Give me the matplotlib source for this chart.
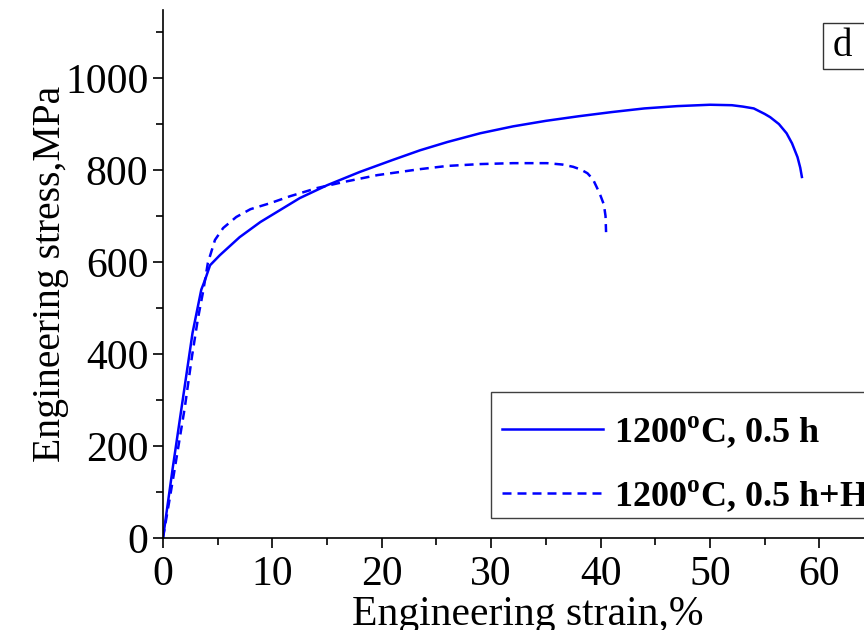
import matplotlib
matplotlib.use("Agg")
import matplotlib.pyplot as plt
from matplotlib.patches import Rectangle

plt.rcParams["font.family"] = ["Liberation Serif", "DejaVu Serif"]
plt.rcParams["mathtext.fontset"] = "custom"
plt.rcParams["mathtext.rm"] = "Liberation Serif"
plt.rcParams["mathtext.bf"] = "Liberation Serif:bold"

# Tensile curves: engineering strain (%) vs engineering stress (MPa)
strain_a = [0, 0.9, 1.8, 2.7, 3.5, 3.84, 4.3, 5.2, 7.0, 8.9, 10.7, 12.5, 15.0, 18.0,
            21.0, 23.5, 26.0, 29.0, 32.0, 35.0, 38.0, 41.0, 44.0, 47.0, 50.0,
            52.0, 53.0, 54.0, 55.0, 55.5, 56.3, 57.0, 57.5, 58.0, 58.25, 58.4]
stress_a = [0, 154, 300, 446, 540, 561, 593, 615, 654, 687, 713, 739, 767, 796,
            822, 843, 861, 880, 895, 907, 917, 926, 934, 939, 942,
            941, 938, 934, 922, 915, 900, 880, 858, 828, 805, 785]

strain_b = [0, 1.0, 2.0, 2.65, 3.2, 3.66, 4.1, 4.75, 5.5, 6.7, 8.0, 9.8, 11.6, 14.1,
            16.5, 19.6, 23.5, 26.0, 29.0, 32.0, 35.1, 36.5, 37.5, 38.2, 38.8,
            39.3, 39.9, 40.3, 40.45, 40.5]
stress_b = [0, 140, 285, 395, 478, 535, 598, 648, 674, 698, 715, 728, 743, 761,
            774, 789, 802, 809, 813, 815, 815, 812, 807, 801, 793,
            780, 750, 725, 700, 665]

labels = [r"1200$^{\mathbf{o}}$C, 0.5 h", r"1200$^{\mathbf{o}}$C, 0.5 h+HIP"]
x_ticks = [0, 10, 20, 30, 40, 50, 60]
y_ticks = [0, 200, 400, 600, 800, 1000]

W, H = 864, 630
fig = plt.figure(figsize=(W / 100, H / 100), dpi=100)
x0, y_bot, y_top = 163, 538, 10
xmax = 66.7
px_per_x = 10.94
ax = fig.add_axes([x0 / W, 1 - y_bot / H, xmax * px_per_x / W, (y_bot - y_top) / H])

blue = "#0000ff"
ax.plot(strain_a, stress_a, color=blue, lw=1.8, label=labels[0])
ax.plot(strain_b, stress_b, color=blue, lw=1.8, dashes=(3.6, 2.4), label=labels[1])

ax.set_xlim(0, xmax)
ax.set_ylim(0, 1148)
ax.set_xticks(x_ticks)
ax.set_yticks(y_ticks)
ax.set_xticks([5, 15, 25, 35, 45, 55, 65], minor=True)
ax.set_yticks([100, 300, 500, 700, 900, 1100], minor=True)

for s in ["top", "right"]:
    ax.spines[s].set_visible(False)
for s in ["left", "bottom"]:
    ax.spines[s].set_linewidth(1.2)

ax.tick_params(which="major", direction="out", length=7.5, width=1.2, labelsize=30)
ax.tick_params(which="minor", direction="out", length=5, width=1.2)
ax.tick_params(axis="y", which="major", pad=3)
ax.tick_params(axis="x", which="major", pad=5)

ax.set_xlabel("Engineering strain,%", fontsize=30, labelpad=1)
ax.set_ylabel("Engineering stress,MPa", fontsize=28.5, labelpad=-3)

# legend frame drawn separately, entries placed inside it
ax.add_patch(Rectangle((491 / W, 1 - 518 / H), 400 / W, 126 / H,
                       transform=fig.transFigure, fc="white", ec="#404040",
                       lw=1.0, zorder=4, clip_on=False))
leg = ax.legend(loc="upper left", bbox_to_anchor=(480 / W, 1 - 392 / H),
                bbox_transform=fig.transFigure, borderaxespad=0,
                prop={"weight": "bold", "size": 26}, frameon=False,
                handlelength=2.8, handletextpad=0.3, borderpad=0.61,
                labelspacing=0.77)
leg.set_zorder(6)

# panel letter in a square frame
fig.add_artist(Rectangle((823 / W, 1 - 69 / H), 60 / W, 46 / H,
                         transform=fig.transFigure, fc="white", ec="#333333", lw=1.0))
fig.text(833 / W, 1 - 46 / H, "d", fontsize=28, ha="left", va="center")

fig.savefig("out.png", dpi=100)
